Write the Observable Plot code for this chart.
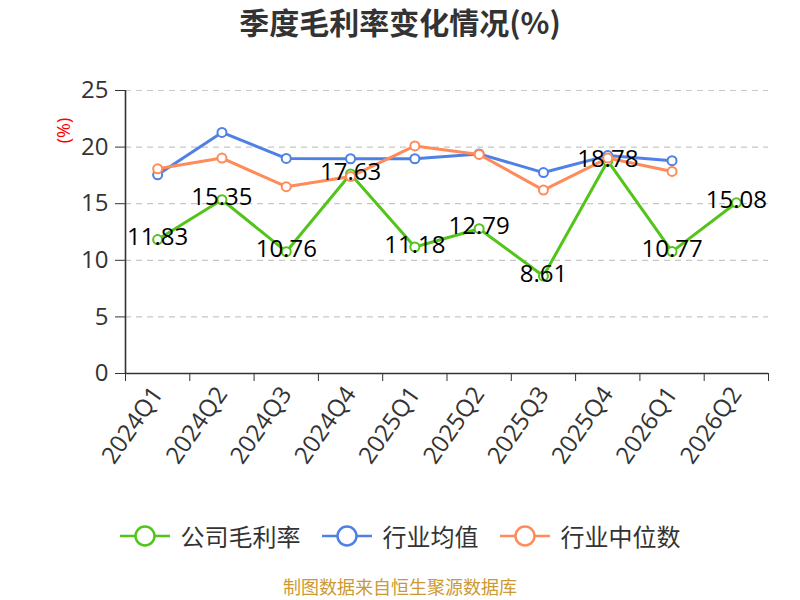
<!DOCTYPE html>
<html>
<head>
<meta charset="utf-8">
<script src="https://cdn.jsdelivr.net/npm/d3@7"></script>
<script src="https://cdn.jsdelivr.net/npm/@observablehq/plot@0.6"></script>
<style>
  body { margin:0; background:#fff; font-family:"Open Sans","Noto Sans CJK SC",sans-serif; }
  #wrap { position:relative; width:800px; height:600px; overflow:hidden; }
  #title { position:absolute; left:0; top:1px; width:800px; text-align:center; font-family:"Noto Sans CJK SC",sans-serif; font-weight:bold; font-size:30px; line-height:40px; color:#333; }
  #chart { position:absolute; left:0; top:50px; }
  #legend { position:absolute; left:0; top:518px; width:800px; display:flex; justify-content:center; align-items:center; font-family:"Noto Sans CJK SC",sans-serif; font-size:24px; color:#333; }
  .item { display:flex; align-items:center; margin:0 10.5px; }
  .item svg { margin-right:11px; }
  #caption { position:absolute; left:0; top:574px; width:800px; text-align:center; font-family:"Noto Sans CJK SC",sans-serif; font-size:18px; line-height:24px; color:#cc9933; }
</style>
</head>
<body>
<div id="wrap">
  <div id="title">季度毛利率变化情况(%)</div>
  <div id="chart"></div>
  <div id="legend"></div>
  <div id="caption">制图数据来自恒生聚源数据库</div>
</div>
<script>
const quarters = ["2024Q1","2024Q2","2024Q3","2024Q4","2025Q1","2025Q2","2025Q3","2025Q4","2026Q1","2026Q2"];
const company = [11.83, 15.35, 10.76, 17.63, 11.18, 12.79, 8.61, 18.78, 10.77, 15.08];
const industryAvg = [17.55, 21.3, 19.0, 18.97, 18.97, 19.4, 17.75, 19.25, 18.8, null];
const industryMedian = [18.08, 19.03, 16.5, 17.4, 20.1, 19.35, 16.2, 19.03, 17.85, null];
const seriesNames = ["公司毛利率","行业均值","行业中位数"];
const seriesColors = ["#52c41a","#4f80e6","#ff8b5a"];
const yTicks = [0,5,10,15,20,25];

const seriesValues = [company, industryAvg, industryMedian];
const rows = (k) => quarters.map((q,i)=>({i:i+0.5, q, v:seriesValues[k][i]})).filter(d=>d.v!=null);

const marks = [
  Plot.gridY(yTicks.filter(t=>t>0), {stroke:"#c8c8c8", strokeOpacity:1, strokeDasharray:"6,5", strokeWidth:1.2}),
  Plot.axisY({ticks:yTicks, tickSize:10, tickPadding:7, fontSize:24, color:"#333", label:null}),
  Plot.ruleX([0], {stroke:"#333", strokeWidth:1.6}),
  Plot.ruleY([0], {stroke:"#333", strokeWidth:1.6}),
  Plot.axisX({ticks:d3.range(quarters.length+1), tickFormat:()=>"", tickSize:8, color:"#333", label:null}),
  Plot.axisX({ticks:quarters.map((q,i)=>i+0.5), tickFormat:(t)=>quarters[Math.floor(t)], tickSize:0, tickPadding:16, tickRotate:-55, fontSize:24, color:"#333", label:null}),
  Plot.text(["(%)"], {frameAnchor:"top-left", dx:-68, dy:40, rotate:-90, fill:"red", fontSize:18, textAnchor:"middle"})
];
for (let k=0;k<3;k++){
  marks.push(Plot.line(rows(k), {x:"i", y:"v", stroke:seriesColors[k], strokeWidth:3}));
  marks.push(Plot.dot(rows(k), {x:"i", y:"v", r:4.5, fill:"white", stroke:seriesColors[k], strokeWidth:2}));
}
marks.push(Plot.text(rows(0), {x:"i", y:"v", text:d=>d.v.toFixed(2), fill:"#000", fontSize:24, dy:-2}));

const chart = Plot.plot({
  width:800, height:450,
  marginLeft:125, marginRight:32, marginTop:40, marginBottom:127,
  x:{type:"linear", domain:[0, quarters.length]},
  y:{domain:[0,25]},
  style:{fontFamily:"'Open Sans','Noto Sans CJK SC',sans-serif", background:"white", overflow:"visible"},
  marks
});
document.getElementById("chart").appendChild(chart);

const legend = document.getElementById("legend");
seriesNames.forEach((name,k)=>{
  const item = document.createElement("div");
  item.className="item";
  item.innerHTML = `<svg width="50" height="24"><line x1="0" y1="12" x2="50" y2="12" stroke="${seriesColors[k]}" stroke-width="2.5"/><circle cx="25" cy="12" r="9.5" fill="white" stroke="${seriesColors[k]}" stroke-width="2.5"/></svg><span>${name}</span>`;
  legend.appendChild(item);
});
</script>
</body>
</html>
